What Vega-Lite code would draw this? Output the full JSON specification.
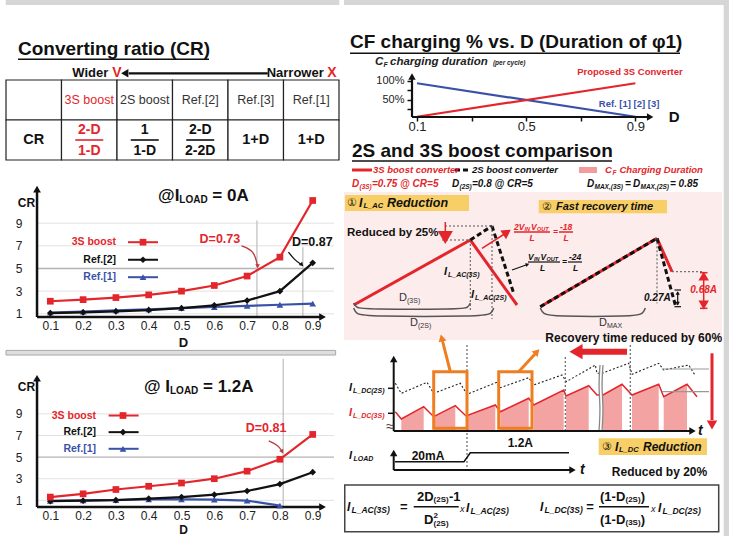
{
"$schema":"https://vega.github.io/schema/vega-lite/v6.json",
"background":"white",
"padding":{"left":5,"top":0,"right":0,"bottom":0},
"config":{"view":{"stroke":null},"font":"Liberation Sans","text":{"font":"Liberation Sans"},"axis":{"grid":false,"domain":false,"ticks":false,"tickSize":0,"labelFont":"Liberation Sans","titleFont":"Liberation Sans","labelColor":"#222222"},"legend":{"labelFont":"Liberation Sans"}},
"spacing":4,
"resolve":{"scale":{"color":"independent","shape":"independent"},"legend":{"color":"independent","shape":"independent"}},
"hconcat":[
{"spacing":0,
 "resolve":{"scale":{"color":"independent","shape":"independent"},"legend":{"color":"independent","shape":"independent"}},
 "vconcat":[
 {"width":333,"height":160,
  "data":{"values":[
   {"col":"lab","row":"head","txt":""},{"col":"3S","row":"head","txt":"3S boost"},{"col":"2S","row":"head","txt":"2S boost"},{"col":"R2","row":"head","txt":"Ref.[2]"},{"col":"R3","row":"head","txt":"Ref.[3]"},{"col":"R1","row":"head","txt":"Ref.[1]"},
   {"col":"lab","row":"cr","txt":"CR"},{"col":"3S","row":"cr","num":"2-D","den":"1-D"},{"col":"2S","row":"cr","num":"1","den":"1-D"},{"col":"R2","row":"cr","num":"2-D","den":"2-2D"},{"col":"R3","row":"cr","txt":"1+D"},{"col":"R1","row":"cr","txt":"1+D"}]},
  "encoding":{
   "x":{"field":"col","type":"nominal","scale":{"domain":["lab","3S","2S","R2","R3","R1"],"paddingInner":0,"paddingOuter":0},"axis":null},
   "y":{"field":"row","type":"nominal","scale":{"domain":["t","a","head","cr"],"paddingInner":0,"paddingOuter":0},"axis":null}},
  "layer":[
   {"data":{"values":[{"col":"lab"},{"col":"3S"},{"col":"2S"},{"col":"R2"},{"col":"R3"},{"col":"R1"}]},"mark":{"type":"tick","orient":"horizontal","size":56,"thickness":5,"opacity":1,"color":"#d6d6d6","yOffset":-17.5},"encoding":{"y":{"datum":"t"}}},
   {"mark":{"type":"rect","fill":"white","stroke":"#222222","strokeWidth":1.2},"encoding":{}},
   {"transform":[{"filter":"datum.row==='head'"}],"mark":{"type":"text","fontSize":12.5,"baseline":"middle"},"encoding":{"text":{"field":"txt"},"color":{"condition":{"test":"datum.col==='3S'","value":"#e3262b"},"value":"#333333"}}},
   {"transform":[{"filter":"datum.row==='cr' && datum.txt"}],"mark":{"type":"text","fontSize":14.5,"fontWeight":"bold","baseline":"middle","color":"#111111"},"encoding":{"text":{"field":"txt"}}},
   {"transform":[{"filter":"datum.num"}],"mark":{"type":"text","fontSize":14,"fontWeight":"bold","baseline":"middle","dy":-10},"encoding":{"text":{"field":"num"},"color":{"condition":{"test":"datum.col==='3S'","value":"#e3262b"},"value":"#111111"}}},
   {"transform":[{"filter":"datum.num"}],"mark":{"type":"text","fontSize":14,"fontWeight":"bold","baseline":"middle","dy":11},"encoding":{"text":{"field":"den"},"color":{"condition":{"test":"datum.col==='3S'","value":"#e3262b"},"value":"#111111"}}},
   {"transform":[{"filter":"datum.num"}],"mark":{"type":"tick","orient":"horizontal","size":28,"thickness":1.6,"opacity":1},"encoding":{"color":{"condition":{"test":"datum.col==='3S'","value":"#e3262b"},"value":"#111111"}}},
   {"data":{"values":[{}]},"mark":{"type":"text","text":"Converting ratio (CR)","fontSize":19,"fontWeight":"bold","align":"left","baseline":"alphabetic","dx":-15.75,"dy":-5,"color":"#111111"},"encoding":{"x":{"datum":"lab"},"y":{"datum":"a"}}},
   {"data":{"values":[{}]},"mark":{"type":"rule","strokeWidth":1.6,"color":"#111111","xOffset":-15.75,"x2Offset":8.75,"yOffset":-0.7},"encoding":{"x":{"datum":"lab"},"x2":{"datum":"R2"},"y":{"datum":"a"}}},
   {"data":{"values":[{}]},"mark":{"type":"text","text":"Wider","fontSize":13,"fontWeight":"bold","align":"right","baseline":"middle","dx":19,"dy":13.3,"color":"#111111"},"encoding":{"x":{"datum":"3S"},"y":{"datum":"a"}}},
   {"data":{"values":[{}]},"mark":{"type":"text","text":"V","fontSize":14,"fontWeight":"bold","align":"left","baseline":"middle","dx":23,"dy":13.3,"color":"#e3262b"},"encoding":{"x":{"datum":"3S"},"y":{"datum":"a"}}},
   {"data":{"values":[{}]},"mark":{"type":"text","text":"Narrower","fontSize":13,"fontWeight":"bold","align":"right","baseline":"middle","dx":12.5,"dy":13.3,"color":"#111111"},"encoding":{"x":{"datum":"R1"},"y":{"datum":"a"}}},
   {"data":{"values":[{}]},"mark":{"type":"text","text":"X","fontSize":14,"fontWeight":"bold","align":"left","baseline":"middle","dx":16,"dy":13.3,"color":"#e3262b"},"encoding":{"x":{"datum":"R1"},"y":{"datum":"a"}}},
   {"data":{"values":[{}]},"mark":{"type":"rule","strokeWidth":2.2,"color":"#111111","xOffset":-16,"x2Offset":12,"yOffset":13.3},"encoding":{"x":{"datum":"2S"},"x2":{"datum":"R3"},"y":{"datum":"a"}}},
   {"data":{"values":[{}]},"mark":{"type":"point","shape":"triangle-left","filled":true,"size":70,"opacity":1,"color":"#111111","xOffset":-20,"yOffset":13.3},"encoding":{"x":{"datum":"2S"},"y":{"datum":"a"}}}
  ]},
 {"width":333,"height":156,
  "data":{"values":[
   {"D":0.1,"CR":1.1,"s":"Ref.[1]"},{"D":0.2,"CR":1.2,"s":"Ref.[1]"},{"D":0.3,"CR":1.3,"s":"Ref.[1]"},{"D":0.4,"CR":1.4,"s":"Ref.[1]"},{"D":0.5,"CR":1.5,"s":"Ref.[1]"},{"D":0.6,"CR":1.6,"s":"Ref.[1]"},{"D":0.7,"CR":1.7,"s":"Ref.[1]"},{"D":0.8,"CR":1.8,"s":"Ref.[1]"},{"D":0.9,"CR":1.9,"s":"Ref.[1]"},
   {"D":0.1,"CR":1.06,"s":"Ref.[2]"},{"D":0.2,"CR":1.13,"s":"Ref.[2]"},{"D":0.3,"CR":1.21,"s":"Ref.[2]"},{"D":0.4,"CR":1.33,"s":"Ref.[2]"},{"D":0.5,"CR":1.5,"s":"Ref.[2]"},{"D":0.6,"CR":1.75,"s":"Ref.[2]"},{"D":0.7,"CR":2.17,"s":"Ref.[2]"},{"D":0.8,"CR":3.0,"s":"Ref.[2]"},{"D":0.9,"CR":5.5,"s":"Ref.[2]"},
   {"D":0.1,"CR":2.11,"s":"3S boost"},{"D":0.2,"CR":2.25,"s":"3S boost"},{"D":0.3,"CR":2.43,"s":"3S boost"},{"D":0.4,"CR":2.67,"s":"3S boost"},{"D":0.5,"CR":3.0,"s":"3S boost"},{"D":0.6,"CR":3.5,"s":"3S boost"},{"D":0.7,"CR":4.33,"s":"3S boost"},{"D":0.8,"CR":6.0,"s":"3S boost"},{"D":0.9,"CR":11.0,"s":"3S boost"}]},
  "encoding":{
   "x":{"field":"D","type":"quantitative","scale":{"domain":[-0.0351,0.9802],"nice":false,"zero":false},"axis":{"values":[0.1,0.2,0.3,0.4,0.5,0.6,0.7,0.8,0.9],"format":".1f","labelFontSize":12,"labelPadding":3,"labelOverlap":false,"title":"D","titleFontSize":13,"titleFontWeight":"bold","titleColor":"#111111","titleX":177,"titleY":19,"titleBaseline":"top"}},
   "y":{"field":"CR","type":"quantitative","scale":{"domain":[0.7176,14.486],"nice":false,"zero":false},"axis":{"values":[1,3,5,7,9],"offset":-31,"labelPadding":15,"labelFontSize":12,"title":"CR","titleAngle":0,"titleX":-11,"titleY":41,"titleAlign":"center","titleBaseline":"middle","titleFontSize":12,"titleFontWeight":"bold","titleColor":"#111111"}}},
  "layer":[
   {"data":{"values":[{"D":0.0595,"D2":0.965,"CR":1},{"D":0.0595,"D2":0.965,"CR":3},{"D":0.0595,"D2":0.965,"CR":7},{"D":0.0595,"D2":0.965,"CR":9}]},"mark":{"type":"rule","color":"#e2e2e2","strokeWidth":1},"encoding":{"x2":{"field":"D2"}}},
   {"data":{"values":[{"D":0.0595,"D2":0.965,"CR":5}]},"mark":{"type":"rule","color":"#b3b3b3","strokeWidth":1.3},"encoding":{"x2":{"field":"D2"}}},
   {"data":{"values":[{"D":0.73,"CR":0.7176,"CR2":9.23},{"D":0.87,"CR":0.7176,"CR2":6.88}]},"mark":{"type":"rule","color":"#bdbdbd","strokeWidth":1.2},"encoding":{"y2":{"field":"CR2"}}},
   {"data":{"values":[{"D":0.0595,"D2":0.93,"CR":0.7176}]},"mark":{"type":"rule","color":"#111111","strokeWidth":2.5},"encoding":{"x2":{"field":"D2"}}},
   {"data":{"values":[{"D":0.0595,"CR":0.7176,"CR2":12.0}]},"mark":{"type":"rule","color":"#111111","strokeWidth":2.5},"encoding":{"y2":{"field":"CR2"}}},
   {"data":{"values":[{"D":0.93,"CR":0.7176,"a":90},{"D":0.0595,"CR":12.0,"a":0}]},"mark":{"type":"point","shape":"triangle-up","filled":true,"size":60,"opacity":1,"color":"#111111"},"encoding":{"angle":{"field":"a","type":"quantitative","scale":null}}},
   {"mark":{"type":"line","strokeWidth":2.2},"encoding":{"color":{"field":"s","type":"nominal","scale":{"domain":["3S boost","Ref.[2]","Ref.[1]"],"range":["#e3262b","#111111","#3a51a8"]},"legend":null}}},
   {"mark":{"type":"point","filled":true,"size":45,"opacity":1},"encoding":{"color":{"field":"s","type":"nominal","legend":null},"shape":{"field":"s","type":"nominal","scale":{"domain":["3S boost","Ref.[2]","Ref.[1]"],"range":["square","diamond","triangle-up"]},"legend":null}}},
   {"data":{"values":[{"D":0.3369,"D2":0.4284,"CR":7.32,"s":"3S boost"},{"D":0.3369,"D2":0.4284,"CR":5.77,"s":"Ref.[2]"},{"D":0.3369,"D2":0.4284,"CR":4.23,"s":"Ref.[1]"}]},"mark":{"type":"rule","strokeWidth":2},"encoding":{"x2":{"field":"D2"},"color":{"field":"s","type":"nominal","legend":null}}},
   {"data":{"values":[{"D":0.3826,"CR":7.32,"s":"3S boost"},{"D":0.3826,"CR":5.77,"s":"Ref.[2]"},{"D":0.3826,"CR":4.23,"s":"Ref.[1]"}]},"mark":{"type":"point","filled":true,"size":45,"opacity":1},"encoding":{"color":{"field":"s","type":"nominal","legend":null},"shape":{"field":"s","type":"nominal","legend":null}}},
   {"data":{"values":[{"D":0.3003,"CR":7.32,"s":"3S boost"},{"D":0.3003,"CR":5.77,"s":"Ref.[2]"},{"D":0.3003,"CR":4.23,"s":"Ref.[1]"}]},"mark":{"type":"text","align":"right","baseline":"middle","fontSize":10.5,"fontWeight":"bold"},"encoding":{"text":{"field":"s"},"color":{"field":"s","type":"nominal","legend":null}}},
   {"data":{"values":[{"D":0.4287,"CR":11.44,"t":"@I"},{"D":0.594,"CR":11.44,"t":"= 0A"}]},"mark":{"type":"text","align":"left","baseline":"middle","fontSize":17,"fontWeight":"bold","color":"#111111"},"encoding":{"text":{"field":"t"}}},
   {"data":{"values":[{"D":0.4933,"CR":11.05,"t":"LOAD"}]},"mark":{"type":"text","align":"left","baseline":"middle","fontSize":10,"fontWeight":"bold","color":"#111111"},"encoding":{"text":{"field":"t"}}},
   {"data":{"values":[{"D":0.617,"CR":7.62,"t":"D=0.73"}]},"mark":{"type":"text","align":"center","baseline":"middle","fontSize":12.5,"fontWeight":"bold","color":"#e3262b"},"encoding":{"text":{"field":"t"}}},
   {"data":{"values":[{"D":0.899,"CR":7.32,"t":"D=0.87"}]},"mark":{"type":"text","align":"center","baseline":"middle","fontSize":12.5,"fontWeight":"bold","color":"#111111"},"encoding":{"text":{"field":"t"}}},
   {"data":{"values":[{"D":0.683,"CR":7.0},{"D":0.722,"CR":6.55},{"D":0.731,"CR":5.3}]},"mark":{"type":"line","interpolate":"basis","color":"#b83a3a","strokeWidth":1.3},"encoding":{}},
   {"data":{"values":[{"D":0.826,"CR":6.45},{"D":0.845,"CR":5.75},{"D":0.864,"CR":5.38}]},"mark":{"type":"line","interpolate":"basis","color":"#111111","strokeWidth":1.3},"encoding":{}},
   {"data":{"values":[{"D":0.732,"CR":5.2,"a":180}]},"mark":{"type":"point","shape":"triangle-up","filled":true,"size":22,"opacity":1,"color":"#b83a3a"},"encoding":{"angle":{"field":"a","type":"quantitative","scale":null}}},
   {"data":{"values":[{"D":0.867,"CR":5.32,"a":135}]},"mark":{"type":"point","shape":"triangle-up","filled":true,"size":22,"opacity":1,"color":"#111111"},"encoding":{"angle":{"field":"a","type":"quantitative","scale":null}}}
  ]},
 {"width":333,"height":157,
  "data":{"values":[
   {"D":0.1,"CR":0.95,"s":"Ref.[1]"},{"D":0.2,"CR":1.0,"s":"Ref.[1]"},{"D":0.3,"CR":1.03,"s":"Ref.[1]"},{"D":0.4,"CR":1.08,"s":"Ref.[1]"},{"D":0.5,"CR":1.08,"s":"Ref.[1]"},{"D":0.6,"CR":1.07,"s":"Ref.[1]"},{"D":0.7,"CR":0.97,"s":"Ref.[1]"},{"D":0.8,"CR":0.5,"s":"Ref.[1]"},
   {"D":0.1,"CR":0.92,"s":"Ref.[2]"},{"D":0.2,"CR":0.97,"s":"Ref.[2]"},{"D":0.3,"CR":1.02,"s":"Ref.[2]"},{"D":0.4,"CR":1.15,"s":"Ref.[2]"},{"D":0.5,"CR":1.3,"s":"Ref.[2]"},{"D":0.6,"CR":1.52,"s":"Ref.[2]"},{"D":0.7,"CR":1.86,"s":"Ref.[2]"},{"D":0.8,"CR":2.5,"s":"Ref.[2]"},{"D":0.9,"CR":3.6,"s":"Ref.[2]"},
   {"D":0.1,"CR":1.3,"s":"3S boost"},{"D":0.2,"CR":1.6,"s":"3S boost"},{"D":0.3,"CR":2.0,"s":"3S boost"},{"D":0.4,"CR":2.3,"s":"3S boost"},{"D":0.5,"CR":2.6,"s":"3S boost"},{"D":0.6,"CR":3.0,"s":"3S boost"},{"D":0.7,"CR":3.7,"s":"3S boost"},{"D":0.8,"CR":4.8,"s":"3S boost"},{"D":0.9,"CR":7.1,"s":"3S boost"}]},
  "encoding":{
   "x":{"field":"D","type":"quantitative","scale":{"domain":[-0.0351,0.9802],"nice":false,"zero":false},"axis":{"values":[0.1,0.2,0.3,0.4,0.5,0.6,0.7,0.8,0.9],"format":".1f","labelFontSize":12,"labelPadding":3,"labelOverlap":false,"title":"D","titleFontSize":12,"titleFontWeight":"bold","titleColor":"#111111","titleX":177,"titleY":17,"titleBaseline":"top"}},
   "y":{"field":"CR","type":"quantitative","scale":{"domain":[0.38,14.917],"nice":false,"zero":false},"axis":{"values":[1,3,5,7,9],"offset":-31,"labelPadding":15,"labelFontSize":12,"title":"CR","titleAngle":0,"titleX":-11,"titleY":36,"titleAlign":"center","titleBaseline":"middle","titleFontSize":12,"titleFontWeight":"bold","titleColor":"#111111"}}},
  "layer":[
   {"data":{"values":[{"D":-0.0351,"D2":0.97,"CR":14.45,"CR2":14.88}]},"mark":{"type":"rect","fill":"#dedede","stroke":"#a8a8a8","strokeWidth":1},"encoding":{"x2":{"field":"D2"},"y2":{"field":"CR2"}}},
   {"data":{"values":[{"D":0.0595,"D2":0.965,"CR":1},{"D":0.0595,"D2":0.965,"CR":3},{"D":0.0595,"D2":0.965,"CR":7},{"D":0.0595,"D2":0.965,"CR":9}]},"mark":{"type":"rule","color":"#e2e2e2","strokeWidth":1},"encoding":{"x2":{"field":"D2"}}},
   {"data":{"values":[{"D":0.0595,"D2":0.965,"CR":5}]},"mark":{"type":"rule","color":"#b3b3b3","strokeWidth":1.3},"encoding":{"x2":{"field":"D2"}}},
   {"data":{"values":[{"D":0.81,"CR":0.38,"CR2":14.1}]},"mark":{"type":"rule","color":"#bdbdbd","strokeWidth":1.2},"encoding":{"y2":{"field":"CR2"}}},
   {"data":{"values":[{"D":0.0595,"D2":0.93,"CR":0.38}]},"mark":{"type":"rule","color":"#111111","strokeWidth":2.5},"encoding":{"x2":{"field":"D2"}}},
   {"data":{"values":[{"D":0.0595,"CR":0.38,"CR2":12.3}]},"mark":{"type":"rule","color":"#111111","strokeWidth":2.5},"encoding":{"y2":{"field":"CR2"}}},
   {"data":{"values":[{"D":0.93,"CR":0.38,"a":90},{"D":0.0595,"CR":12.3,"a":0}]},"mark":{"type":"point","shape":"triangle-up","filled":true,"size":60,"opacity":1,"color":"#111111"},"encoding":{"angle":{"field":"a","type":"quantitative","scale":null}}},
   {"mark":{"type":"line","strokeWidth":2.2},"encoding":{"color":{"field":"s","type":"nominal","scale":{"domain":["3S boost","Ref.[2]","Ref.[1]"],"range":["#e3262b","#111111","#3a51a8"]},"legend":null}}},
   {"mark":{"type":"point","filled":true,"size":45,"opacity":1},"encoding":{"color":{"field":"s","type":"nominal","legend":null},"shape":{"field":"s","type":"nominal","scale":{"domain":["3S boost","Ref.[2]","Ref.[1]"],"range":["square","diamond","triangle-up"]},"legend":null}}},
   {"data":{"values":[{"D":0.2777,"D2":0.3692,"CR":8.85,"s":"3S boost"},{"D":0.2777,"D2":0.3692,"CR":7.31,"s":"Ref.[2]"},{"D":0.2777,"D2":0.3692,"CR":5.77,"s":"Ref.[1]"}]},"mark":{"type":"rule","strokeWidth":2},"encoding":{"x2":{"field":"D2"},"color":{"field":"s","type":"nominal","legend":null}}},
   {"data":{"values":[{"D":0.3216,"CR":8.85,"s":"3S boost"},{"D":0.3216,"CR":7.31,"s":"Ref.[2]"},{"D":0.3216,"CR":5.77,"s":"Ref.[1]"}]},"mark":{"type":"point","filled":true,"size":45,"opacity":1},"encoding":{"color":{"field":"s","type":"nominal","legend":null},"shape":{"field":"s","type":"nominal","legend":null}}},
   {"data":{"values":[{"D":0.2396,"CR":8.85,"s":"3S boost"},{"D":0.2396,"CR":7.31,"s":"Ref.[2]"},{"D":0.2396,"CR":5.77,"s":"Ref.[1]"}]},"mark":{"type":"text","align":"right","baseline":"middle","fontSize":10.5,"fontWeight":"bold"},"encoding":{"text":{"field":"s"},"color":{"field":"s","type":"nominal","legend":null}}},
   {"data":{"values":[{"D":0.3857,"CR":11.52,"t":"@ I"},{"D":0.5656,"CR":11.52,"t":"= 1.2A"}]},"mark":{"type":"text","align":"left","baseline":"middle","fontSize":17,"fontWeight":"bold","color":"#111111"},"encoding":{"text":{"field":"t"}}},
   {"data":{"values":[{"D":0.4649,"CR":11.12,"t":"LOAD"}]},"mark":{"type":"text","align":"left","baseline":"middle","fontSize":10,"fontWeight":"bold","color":"#111111"},"encoding":{"text":{"field":"t"}}},
   {"data":{"values":[{"D":0.758,"CR":7.69,"t":"D=0.81"}]},"mark":{"type":"text","align":"center","baseline":"middle","fontSize":12.5,"fontWeight":"bold","color":"#e3262b"},"encoding":{"text":{"field":"t"}}},
   {"data":{"values":[{"D":0.766,"CR":6.5},{"D":0.795,"CR":6.1},{"D":0.805,"CR":5.6}]},"mark":{"type":"line","interpolate":"basis","color":"#b83a3a","strokeWidth":1.3},"encoding":{}},
   {"data":{"values":[{"D":0.807,"CR":5.5,"a":150}]},"mark":{"type":"point","shape":"triangle-up","filled":true,"size":22,"opacity":1,"color":"#b83a3a"},"encoding":{"angle":{"field":"a","type":"quantitative","scale":null}}}
  ]}
 ]},
{"spacing":0,
 "vconcat":[
 {"width":387,"height":117,
  "encoding":{
   "x":{"field":"D","type":"quantitative","scale":{"domain":[-0.1674,1.2502],"nice":false,"zero":false},"axis":{"values":[0.1,0.3,0.5,0.7,0.9],"labelExpr":"(abs(datum.value-0.3)<0.01||abs(datum.value-0.7)<0.01)?'':datum.label","ticks":true,"tickSize":4,"tickWidth":1.5,"tickColor":"#111111","labelPadding":-1,"labelFontSize":13,"title":null}},
   "y":{"field":"pct","type":"quantitative","scale":{"domain":[5.26,313.16],"nice":false,"zero":false},"axis":{"values":[25,50,75,100],"labelExpr":"datum.value==100?'100%':(datum.value==50?'50%':'')","offset":-68,"ticks":true,"tickSize":5,"tickWidth":1.5,"tickColor":"#111111","labelPadding":3,"labelFontSize":11,"title":null}}},
  "layer":[
   {"data":{"values":[{"D":1.2234,"D2":1.2502,"pct":-44.7,"pct2":313.16},{"D":-0.1674,"D2":1.2502,"pct":300,"pct2":313.16}]},"mark":{"type":"rect","color":"#d6d6d6"},"encoding":{"x2":{"field":"D2"},"y2":{"field":"pct2"}}},
   {"data":{"values":[{"D":0.1,"pct":94},{"D":0.9,"pct":6}]},"mark":{"type":"line","color":"#3a51a8","strokeWidth":2.2},"encoding":{}},
   {"data":{"values":[{"D":0.1,"pct":6},{"D":0.9,"pct":94}]},"mark":{"type":"line","color":"#e3262b","strokeWidth":2.2},"encoding":{}},
   {"data":{"values":[{"D":0.0817,"D2":0.954,"pct":5.26}]},"mark":{"type":"rule","color":"#111111","strokeWidth":2.2},"encoding":{"x2":{"field":"D2"}}},
   {"data":{"values":[{"D":0.0817,"pct":5.26,"pct2":112}]},"mark":{"type":"rule","color":"#111111","strokeWidth":2.2},"encoding":{"y2":{"field":"pct2"}}},
   {"data":{"values":[{"D":0.954,"pct":5.26,"a":90},{"D":0.0817,"pct":112,"a":0}]},"mark":{"type":"point","shape":"triangle-up","filled":true,"size":55,"opacity":1,"color":"#111111"},"encoding":{"angle":{"field":"a","type":"quantitative","scale":null}}},
   {"data":{"values":[{"D":-0.1454,"pct":186.05,"t":"CF charging % vs. D (Duration of φ1)"}]},"mark":{"type":"text","align":"left","baseline":"alphabetic","fontSize":19,"fontWeight":"bold","color":"#111111"},"encoding":{"text":{"field":"t"}}},
   {"data":{"values":[{"D":-0.1454,"D2":1.0634,"pct":172.9}]},"mark":{"type":"rule","color":"#111111","strokeWidth":1.6},"encoding":{"x2":{"field":"D2"}}},
   {"data":{"values":[{"D":-0.0539,"pct":150,"t":"C"},{"D":0.0012,"pct":150,"t":"charging duration"}]},"mark":{"type":"text","align":"left","baseline":"middle","fontSize":11.5,"fontWeight":"bold","fontStyle":"italic","color":"#222222"},"encoding":{"text":{"field":"t"}}},
   {"data":{"values":[{"D":-0.0227,"pct":142,"t":"F"}]},"mark":{"type":"text","align":"left","baseline":"middle","fontSize":7,"fontWeight":"bold","fontStyle":"italic","color":"#222222"},"encoding":{"text":{"field":"t"}}},
   {"data":{"values":[{"D":0.378,"pct":147,"t":"(per cycle)"}]},"mark":{"type":"text","align":"left","baseline":"middle","fontSize":6.5,"fontWeight":"bold","fontStyle":"italic","color":"#222222"},"encoding":{"text":{"field":"t"}}},
   {"data":{"values":[{"D":1.022,"pct":6,"t":"D"}]},"mark":{"type":"text","align":"left","baseline":"middle","fontSize":15,"fontWeight":"bold","color":"#111111"},"encoding":{"text":{"field":"t"}}},
   {"data":{"values":[{"D":0.88,"pct":124.5,"t":"Proposed 3S Converter"}]},"mark":{"type":"text","align":"center","baseline":"middle","fontSize":9.5,"fontWeight":"bold","color":"#e3262b"},"encoding":{"text":{"field":"t"}}},
   {"data":{"values":[{"D":0.877,"pct":39.5,"t":"Ref. [1] [2] [3]"}]},"mark":{"type":"text","align":"center","baseline":"middle","fontSize":9.5,"fontWeight":"bold","color":"#3a51a8"},"encoding":{"text":{"field":"t"}}}
  ]},
 {"width":387,"height":400,
  "encoding":{
   "x":{"field":"u","type":"quantitative","scale":{"domain":[0,387],"nice":false,"zero":false},"axis":null},
   "y":{"field":"v","type":"quantitative","scale":{"domain":[0,400],"nice":false,"zero":false},"axis":null}},
  "layer":[
   {"data":{"values":[{"u":379.7,"u2":387,"v":0,"v2":400}]},"mark":{"type":"rect","color":"#d6d6d6"},"encoding":{"x2":{"field":"u2"},"y2":{"field":"v2"}}},
   {"data":{"values":[{"u":0,"u2":378,"v":196,"v2":344}]},"mark":{"type":"rect","color":"#fcecec"},"encoding":{"x2":{"field":"u2"},"y2":{"field":"v2"}}},
   {"data":{"values":[{"u":1,"u2":125,"v":325,"v2":341},{"u":194.7,"u2":323,"v":322.7,"v2":336},{"u":254.7,"u2":363,"v":81,"v2":97.7}]},"mark":{"type":"rect","color":"#f7cf66"},"encoding":{"x2":{"field":"u2"},"y2":{"field":"v2"}}},
   {"data":{"values":[{"u":235,"u2":253,"v":363,"v2":369}]},"mark":{"type":"rect","color":"#f29c9c"},"encoding":{"x2":{"field":"u2"},"y2":{"field":"v2"}}},
   {"data":{"values":[{"u":0.75,"u2":374.7,"v":4.3,"v2":51}]},"mark":{"type":"rect","fill":"white","stroke":"#444444","strokeWidth":1.5},"encoding":{"x2":{"field":"u2"},"y2":{"field":"v2"}}},
   {"data":{"values":[
     {"g":1,"u":57.3,"v":117},{"g":1,"u":79.7,"v":129.3},
     {"g":2,"u":89.7,"v":119.3},{"g":2,"u":111.3,"v":130.3},
     {"g":3,"u":122,"v":120},{"g":3,"u":151.3,"v":131},
     {"g":4,"u":156.3,"v":124.3},{"g":4,"u":184.7,"v":137.7},
     {"g":5,"u":189.7,"v":131},{"g":5,"u":219.7,"v":146},
     {"g":6,"u":222,"v":140},{"g":6,"u":244.7,"v":150.3},
     {"g":7,"u":259,"v":141},{"g":7,"u":278,"v":151.7},
     {"g":8,"u":288,"v":141},{"g":8,"u":314.7,"v":151.7},
     {"g":9,"u":319.7,"v":139.3},{"g":9,"u":343,"v":151.7}]},
    "mark":{"type":"area","color":"#f4a3a3","opacity":1},"encoding":{"detail":{"field":"g"},"y2":{"datum":105}}},
   {"data":{"values":[{"u":51.3,"v":124.3},{"u":57.3,"v":117},{"u":79.7,"v":129.3},{"u":89.7,"v":119.3},{"u":111.3,"v":130.3},{"u":122,"v":120},{"u":151.3,"v":131},{"u":156.3,"v":124.3},{"u":184.7,"v":137.7},{"u":189.7,"v":131},{"u":219.7,"v":146},{"u":222,"v":140},{"u":244.7,"v":150.3},{"u":253,"v":141},{"u":259,"v":141},{"u":278,"v":151.7},{"u":288,"v":141},{"u":314.7,"v":151.7},{"u":319.7,"v":139.3},{"u":343,"v":151.7},{"u":353,"v":139.3}]},"mark":{"type":"line","color":"#e3262b","strokeWidth":1.5},"encoding":{}},
   {"data":{"values":[{"u":51.3,"v":152.7},{"u":57.3,"v":142.7},{"u":83,"v":153.7},{"u":89.7,"v":142.7},{"u":116.3,"v":152.7},{"u":123,"v":141.7},{"u":153,"v":153.7},{"u":156.3,"v":148.3},{"u":184.7,"v":158.3},{"u":189.7,"v":151},{"u":218,"v":161},{"u":222.3,"v":154.3},{"u":251.3,"v":171},{"u":253,"v":162.7},{"u":258,"v":162.7},{"u":284.7,"v":172.7},{"u":288,"v":161.7},{"u":314.7,"v":172.7},{"u":319.7,"v":166},{"u":344.7,"v":171},{"u":351.3,"v":160.3}]},"mark":{"type":"line","color":"#222222","strokeWidth":1.1,"strokeDash":[2,2]},"encoding":{}},
   {"data":{"values":[{"u":123,"v":69,"u2":123,"v2":191},{"u":221.3,"v":105,"u2":221.3,"v2":179.3},{"u":286.3,"v":105,"u2":286.3,"v2":191}]},"mark":{"type":"rule","color":"#666666","strokeWidth":1.2,"strokeDash":[2,2]},"encoding":{"x2":{"field":"u2"},"y2":{"field":"v2"}}},
   {"data":{"values":[{"u":318,"v":167,"u2":365,"v2":167},{"u":318,"v":144.3,"u2":365,"v2":144.3}]},"mark":{"type":"rule","color":"#999999","strokeWidth":1.2},"encoding":{"x2":{"field":"u2"},"y2":{"field":"v2"}}},
   {"data":{"values":[{"u":256,"u2":258.5,"v":105,"v2":171}]},"mark":{"type":"rect","color":"white"},"encoding":{"x2":{"field":"u2"},"y2":{"field":"v2"}}},
   {"data":{"values":[{"b":1,"k":1,"u":256,"v":171},{"b":1,"k":2,"u":254.5,"v":150},{"b":1,"k":3,"u":256.5,"v":128},{"b":1,"k":4,"u":255,"v":105},{"b":2,"k":1,"u":259,"v":171},{"b":2,"k":2,"u":257.5,"v":150},{"b":2,"k":3,"u":259.5,"v":128},{"b":2,"k":4,"u":258,"v":105}]},"mark":{"type":"line","color":"#888888","strokeWidth":1.3,"interpolate":"basis"},"encoding":{"detail":{"field":"b"},"order":{"field":"k"}}},
   {"data":{"values":[{"u":89.7,"u2":123,"v":107.7,"v2":164.3},{"u":154.7,"u2":188,"v":107.7,"v2":164.3}]},"mark":{"type":"rect","fillOpacity":0,"stroke":"#ef7e22","strokeWidth":3},"encoding":{"x2":{"field":"u2"},"y2":{"field":"v2"}}},
   {"data":{"values":[{"u":106.3,"v":164.3,"u2":98.5,"v2":195},{"u":174.7,"v":164.3,"u2":191,"v2":182}]},"mark":{"type":"rule","color":"#ef7e22","strokeWidth":3},"encoding":{"x2":{"field":"u2"},"y2":{"field":"v2"}}},
   {"data":{"values":[{"u":97.7,"v":198,"a":-14},{"u":193,"v":184.3,"a":43}]},"mark":{"type":"point","shape":"triangle-up","filled":true,"size":65,"opacity":1,"color":"#ef7e22"},"encoding":{"angle":{"field":"a","type":"quantitative","scale":null}}},
   {"data":{"values":[{"u":49.7,"v":105,"u2":49.7,"v2":176},{"u":49.7,"v":105,"u2":347,"v2":105},{"u":49.7,"v":66,"u2":49.7,"v2":82},{"u":49.7,"v":66,"u2":227,"v2":66}]},"mark":{"type":"rule","color":"#111111","strokeWidth":2},"encoding":{"x2":{"field":"u2"},"y2":{"field":"v2"}}},
   {"data":{"values":[{"u":44,"v":147.7,"u2":50,"v2":147.7},{"u":44,"v":122.7,"u2":50,"v2":122.7}]},"mark":{"type":"rule","color":"#111111","strokeWidth":1.5},"encoding":{"x2":{"field":"u2"},"y2":{"field":"v2"}}},
   {"data":{"values":[{"u":49.7,"v":177,"a":0},{"u":348.5,"v":105,"a":90},{"u":49.7,"v":83,"a":0},{"u":228.5,"v":66,"a":90}]},"mark":{"type":"point","shape":"triangle-up","filled":true,"size":55,"opacity":1,"color":"#111111"},"encoding":{"angle":{"field":"a","type":"quantitative","scale":null}}},
   {"data":{"values":[{"u":51,"v":74.3},{"u":120,"v":74.3},{"u":126.3,"v":83.3},{"u":225,"v":83.3}]},"mark":{"type":"line","color":"#111111","strokeWidth":1.5},"encoding":{}},
   {"data":{"values":[{"u":283,"v":184.3,"u2":238,"v2":184.3}]},"mark":{"type":"rule","color":"#e3262b","strokeWidth":6},"encoding":{"x2":{"field":"u2"},"y2":{"field":"v2"}}},
   {"data":{"values":[{"u":368,"v":182.7,"u2":368,"v2":116}]},"mark":{"type":"rule","color":"#e3262b","strokeWidth":3},"encoding":{"x2":{"field":"u2"},"y2":{"field":"v2"}}},
   {"data":{"values":[{"u":232,"v":184.3,"a":-90,"z":1},{"u":368,"v":111,"a":180,"z":0}]},"mark":{"type":"point","shape":"triangle-up","filled":true,"opacity":1,"color":"#e3262b"},"encoding":{"angle":{"field":"a","type":"quantitative","scale":null},"size":{"field":"z","type":"quantitative","scale":{"domain":[0,1],"range":[110,230]},"legend":null}}},
   {"data":{"values":[{"u":9.7,"v":231,"u2":126.3,"v2":296},{"u":126.3,"v":296,"u2":173,"v2":231},{"u":196.3,"v":229.3,"u2":313,"v2":297.7},{"u":313,"v":297.7,"u2":328,"v2":264.3},{"u":8,"v":366,"u2":28,"v2":366}]},"mark":{"type":"rule","color":"#e3262b","strokeWidth":3},"encoding":{"x2":{"field":"u2"},"y2":{"field":"v2"}}},
   {"data":{"values":[{"u":126.3,"v":296,"u2":148,"v2":310},{"u":148,"v":310,"u2":169.7,"v2":242.7},{"u":196.3,"v":229.3,"u2":313,"v2":297.7},{"u":313,"v":297.7,"u2":331.3,"v2":231},{"u":111,"v":366,"u2":126,"v2":366}]},"mark":{"type":"rule","color":"#111111","strokeWidth":3,"strokeDash":[5,3]},"encoding":{"x2":{"field":"u2"},"y2":{"field":"v2"}}},
   {"data":{"values":[{"u":101,"v":310,"u2":148,"v2":310},{"u":98,"v":296,"u2":126.3,"v2":296},{"u":126.3,"v":296,"u2":126.3,"v2":226},{"u":148,"v":310,"u2":148,"v2":217},{"u":313,"v":297.7,"u2":313,"v2":232.7},{"u":328,"v":264.3,"u2":359.7,"v2":264.3}]},"mark":{"type":"rule","color":"#555555","strokeWidth":1,"strokeDash":[2,2]},"encoding":{"x2":{"field":"u2"},"y2":{"field":"v2"}}},
   {"data":{"values":[{"u":101.3,"v":314,"u2":101.3,"v2":300},{"u":138,"v":287.7,"u2":162,"v2":303},{"u":170,"v":304,"u2":206,"v2":304},{"u":215,"v":304,"u2":229,"v2":304},{"u":359.7,"v":261,"u2":359.7,"v2":230},{"u":356,"v":263.3,"u2":363.5,"v2":263.3},{"u":356,"v":227.7,"u2":363.5,"v2":227.7}]},"mark":{"type":"rule","color":"#e3262b","strokeWidth":1.5},"encoding":{"x2":{"field":"u2"},"y2":{"field":"v2"}}},
   {"data":{"values":[{"u":101.3,"v":298.5,"a":180,"z":1},{"u":163,"v":303.7,"a":57,"z":0},{"u":359.7,"v":260,"a":0,"z":0},{"u":359.7,"v":231,"a":180,"z":0}]},"mark":{"type":"point","shape":"triangle-up","filled":true,"opacity":1,"color":"#e3262b"},"encoding":{"angle":{"field":"a","type":"quantitative","scale":null},"size":{"field":"z","type":"quantitative","scale":{"domain":[0,1],"range":[20,50]},"legend":null}}},
   {"data":{"values":[{"u":168,"v":266,"u2":182,"v2":271},{"u":184,"v":274,"u2":216,"v2":274},{"u":224,"v":274,"u2":238,"v2":274},{"u":333.7,"v":244,"u2":333.7,"v2":231.3},{"u":330.5,"v":246,"u2":337,"v2":246},{"u":330.5,"v":229.3,"u2":337,"v2":229.3}]},"mark":{"type":"rule","color":"#111111","strokeWidth":1.2},"encoding":{"x2":{"field":"u2"},"y2":{"field":"v2"}}},
   {"data":{"values":[{"u":183.5,"v":271.5,"a":70},{"u":333.7,"v":243,"a":0},{"u":333.7,"v":232.3,"a":180}]},"mark":{"type":"point","shape":"triangle-up","filled":true,"size":18,"opacity":1,"color":"#111111"},"encoding":{"angle":{"field":"a","type":"quantitative","scale":null}}},
   {"data":{"values":[
     {"b":1,"k":1,"u":9.7,"v":233},{"b":1,"k":2,"u":12,"v":228.3},{"b":1,"k":3,"u":20,"v":226.7},{"b":1,"k":4,"u":118,"v":226.7},{"b":1,"k":5,"u":124,"v":228.3},{"b":1,"k":6,"u":126.3,"v":233},
     {"b":2,"k":1,"u":9.7,"v":228},{"b":2,"k":2,"u":12,"v":222},{"b":2,"k":3,"u":22,"v":219.5},{"b":2,"k":4,"u":138,"v":219.5},{"b":2,"k":5,"u":147.5,"v":222},{"b":2,"k":6,"u":149.7,"v":228},
     {"b":3,"k":1,"u":196.3,"v":228},{"b":3,"k":2,"u":199,"v":222},{"b":3,"k":3,"u":208,"v":219.5},{"b":3,"k":4,"u":290,"v":219.5},{"b":3,"k":5,"u":299,"v":222},{"b":3,"k":6,"u":301.3,"v":228}]},
    "mark":{"type":"line","color":"#555555","strokeWidth":1.5,"interpolate":"basis"},"encoding":{"detail":{"field":"b"},"order":{"field":"k"}}},
   {"data":{"values":[{"u":8,"v":375,"u2":268,"v2":375},{"u":69.7,"v":29.3,"u2":114.7,"v2":29.3},{"u":255,"v":29.3,"u2":305,"v2":29.3}]},"mark":{"type":"rule","color":"#111111","strokeWidth":1.5},"encoding":{"x2":{"field":"u2"},"y2":{"field":"v2"}}},
   {"data":{"values":[{"t":"2S and 3S boost comparison","u":8,"v":379.3}]},"mark":{"type":"text","align":"left","baseline":"alphabetic","fontSize":19,"fontWeight":"bold","color":"#111111"},"encoding":{"text":{"field":"t"}}},
   {"data":{"values":[{"t":"3S boost converter","u":29,"v":366},{"t":"C","u":261,"v":366},{"t":"Charging Duration","u":275.5,"v":366}]},"mark":{"type":"text","align":"left","baseline":"middle","fontSize":9.5,"fontWeight":"bold","fontStyle":"italic","color":"#e3262b"},"encoding":{"text":{"field":"t"}}},
   {"data":{"values":[{"t":"2S boost converter","u":128,"v":366}]},"mark":{"type":"text","align":"left","baseline":"middle","fontSize":9.5,"fontWeight":"bold","fontStyle":"italic","color":"#111111"},"encoding":{"text":{"field":"t"}}},
   {"data":{"values":[{"t":"D","u":8,"v":352},{"t":"=0.75 @ CR=5","u":28,"v":352},{"t":"0.68A","u":346.3,"v":246}]},"mark":{"type":"text","align":"left","baseline":"middle","fontSize":10,"fontWeight":"bold","fontStyle":"italic","color":"#e3262b"},"encoding":{"text":{"field":"t"}}},
   {"data":{"values":[{"t":"D","u":108,"v":352},{"t":"=0.8 @ CR=5","u":128,"v":352},{"t":"D","u":243,"v":352},{"t":"=","u":281,"v":352},{"t":"D","u":289,"v":352},{"t":"= 0.85","u":326,"v":352},{"t":"0.27A","u":300,"v":237.7}]},"mark":{"type":"text","align":"left","baseline":"middle","fontSize":10,"fontWeight":"bold","fontStyle":"italic","color":"#111111"},"encoding":{"text":{"field":"t"}}},
   {"data":{"values":[{"t":"F","u":268.5,"v":363.5},{"t":"(3S)","u":15.5,"v":349.5}]},"mark":{"type":"text","align":"left","baseline":"middle","fontSize":6.5,"fontWeight":"bold","fontStyle":"italic","color":"#e3262b"},"encoding":{"text":{"field":"t"}}},
   {"data":{"values":[{"t":"(2S)","u":115.5,"v":349.5},{"t":"MAX,(3S)","u":250.5,"v":349.5},{"t":"MAX,(2S)","u":296.5,"v":349.5}]},"mark":{"type":"text","align":"left","baseline":"middle","fontSize":6.5,"fontWeight":"bold","fontStyle":"italic","color":"#111111"},"encoding":{"text":{"field":"t"}}},
   {"data":{"values":[{"t":"①","u":3,"v":333.3},{"t":"②","u":198,"v":329.3},{"t":"③","u":258,"v":89.3}]},"mark":{"type":"text","align":"left","baseline":"middle","fontSize":11,"color":"#111111"},"encoding":{"text":{"field":"t"}}},
   {"data":{"values":[{"t":"I","u":15,"v":333.3},{"t":"Reduction","u":43,"v":333.3}]},"mark":{"type":"text","align":"left","baseline":"middle","fontSize":12.5,"fontWeight":"bold","fontStyle":"italic","color":"#111111"},"encoding":{"text":{"field":"t"}}},
   {"data":{"values":[{"t":"Fast recovery time","u":212,"v":329.3}]},"mark":{"type":"text","align":"left","baseline":"middle","fontSize":11,"fontWeight":"bold","fontStyle":"italic","color":"#111111"},"encoding":{"text":{"field":"t"}}},
   {"data":{"values":[{"t":"I","u":271,"v":89.3},{"t":"Reduction","u":299,"v":89.3},{"t":"I","u":3,"v":29.3},{"t":"I","u":122,"v":28.5},{"t":"I","u":196,"v":29.3},{"t":"I","u":314,"v":28.5}]},"mark":{"type":"text","align":"left","baseline":"middle","fontSize":12,"fontWeight":"bold","fontStyle":"italic","color":"#111111"},"encoding":{"text":{"field":"t"}}},
   {"data":{"values":[{"t":"L_AC","u":19.5,"v":330.3},{"t":"L_DC","u":275,"v":86.3}]},"mark":{"type":"text","align":"left","baseline":"middle","fontSize":7.5,"fontWeight":"bold","fontStyle":"italic","color":"#111111"},"encoding":{"text":{"field":"t"}}},
   {"data":{"values":[{"t":"Reduced by 25%","u":3,"v":302.7}]},"mark":{"type":"text","align":"left","baseline":"middle","fontSize":11.5,"fontWeight":"bold","color":"#111111"},"encoding":{"text":{"field":"t"}}},
   {"data":{"values":[{"t":"I","u":100,"v":264.3},{"t":"I","u":127,"v":241},{"t":"I","u":5,"v":147.7},{"t":"I","u":5,"v":80}]},"mark":{"type":"text","align":"left","baseline":"middle","fontSize":11,"fontWeight":"bold","fontStyle":"italic","color":"#111111"},"encoding":{"text":{"field":"t"}}},
   {"data":{"values":[{"t":"L_AC(3S)","u":104,"v":261.3},{"t":"L_AC(2S)","u":131,"v":238},{"t":"L_DC(2S)","u":9,"v":144.7},{"t":"LOAD","u":9.5,"v":77}]},"mark":{"type":"text","align":"left","baseline":"middle","fontSize":7,"fontWeight":"bold","fontStyle":"italic","color":"#111111"},"encoding":{"text":{"field":"t"}}},
   {"data":{"values":[{"t":"I","u":5,"v":122.7}]},"mark":{"type":"text","align":"left","baseline":"middle","fontSize":11,"fontWeight":"bold","fontStyle":"italic","color":"#e3262b"},"encoding":{"text":{"field":"t"}}},
   {"data":{"values":[{"t":"L_DC(3S)","u":9,"v":119.7}]},"mark":{"type":"text","align":"left","baseline":"middle","fontSize":7,"fontWeight":"bold","fontStyle":"italic","color":"#e3262b"},"encoding":{"text":{"field":"t"}}},
   {"data":{"values":[{"t":"D","u":55,"v":237.7},{"t":"D","u":66,"v":213},{"t":"D","u":255,"v":213}]},"mark":{"type":"text","align":"left","baseline":"middle","fontSize":11,"color":"#333333"},"encoding":{"text":{"field":"t"}}},
   {"data":{"values":[{"t":"(3S)","u":63,"v":235},{"t":"(2S)","u":74,"v":210.3},{"t":"MAX","u":263,"v":210.3}]},"mark":{"type":"text","align":"left","baseline":"middle","fontSize":7,"color":"#333333"},"encoding":{"text":{"field":"t"}}},
   {"data":{"values":[{"t":"2V","u":170,"v":309},{"t":"V","u":187,"v":309},{"t":"L","u":185.5,"v":298.5},{"t":"=","u":209,"v":304},{"t":"-18","u":216,"v":309},{"t":"L","u":219.5,"v":298.5}]},"mark":{"type":"text","align":"left","baseline":"middle","fontSize":8.5,"fontWeight":"bold","fontStyle":"italic","color":"#e3262b"},"encoding":{"text":{"field":"t"}}},
   {"data":{"values":[{"t":"IN","u":180.5,"v":307},{"t":"OUT","u":193,"v":307}]},"mark":{"type":"text","align":"left","baseline":"middle","fontSize":5.5,"fontWeight":"bold","fontStyle":"italic","color":"#e3262b"},"encoding":{"text":{"field":"t"}}},
   {"data":{"values":[{"t":"V","u":184,"v":279},{"t":"V","u":196.5,"v":279},{"t":"L","u":196,"v":268.5},{"t":"=","u":218,"v":274},{"t":"-24","u":225,"v":279},{"t":"L","u":229,"v":268.5}]},"mark":{"type":"text","align":"left","baseline":"middle","fontSize":8.5,"fontWeight":"bold","fontStyle":"italic","color":"#111111"},"encoding":{"text":{"field":"t"}}},
   {"data":{"values":[{"t":"IN","u":190,"v":277},{"t":"OUT","u":202.5,"v":277}]},"mark":{"type":"text","align":"left","baseline":"middle","fontSize":5.5,"fontWeight":"bold","fontStyle":"italic","color":"#111111"},"encoding":{"text":{"field":"t"}}},
   {"data":{"values":[{"t":"Recovery time reduced by 60%","u":201.3,"v":197.7}]},"mark":{"type":"text","align":"left","baseline":"middle","fontSize":12,"fontWeight":"bold","color":"#111111"},"encoding":{"text":{"field":"t"}}},
   {"data":{"values":[{"t":"20mA","u":84,"v":80},{"t":"1.2A","u":176.3,"v":92.7},{"t":"Reduced by 20%","u":315.5,"v":64.3}]},"mark":{"type":"text","align":"center","baseline":"middle","fontSize":12,"fontWeight":"bold","color":"#111111"},"encoding":{"text":{"field":"t"}}},
   {"data":{"values":[{"t":"≈","u":46,"v":109.3}]},"mark":{"type":"text","align":"center","baseline":"middle","fontSize":14,"color":"#444444"},"encoding":{"text":{"field":"t"}}},
   {"data":{"values":[{"t":"t","u":354,"v":105},{"t":"t","u":236,"v":66}]},"mark":{"type":"text","align":"left","baseline":"middle","fontSize":14,"fontWeight":"bold","fontStyle":"italic","color":"#111111"},"encoding":{"text":{"field":"t"}}},
   {"data":{"values":[{"t":"2D","u":73,"v":39.3},{"t":"-1","u":105,"v":39.3},{"t":"D","u":80,"v":16},{"t":"(1-D","u":256,"v":39.3},{"t":")","u":296.8,"v":39.3},{"t":"(1-D","u":256,"v":16},{"t":")","u":296.8,"v":16}]},"mark":{"type":"text","align":"left","baseline":"middle","fontSize":13,"fontWeight":"bold","color":"#111111"},"encoding":{"text":{"field":"t"}}},
   {"data":{"values":[{"t":"=","u":59.7,"v":29.3},{"t":"=","u":246,"v":29.3}]},"mark":{"type":"text","align":"center","baseline":"middle","fontSize":13,"fontWeight":"bold","color":"#111111"},"encoding":{"text":{"field":"t"}}},
   {"data":{"values":[{"t":"(2S)","u":89.6,"v":36.3},{"t":"2","u":89.5,"v":20.5},{"t":"(2S)","u":89.5,"v":12},{"t":"(2S)","u":281.5,"v":36.3},{"t":"(3S)","u":281.5,"v":13}]},"mark":{"type":"text","align":"left","baseline":"middle","fontSize":8,"fontWeight":"bold","color":"#111111"},"encoding":{"text":{"field":"t"}}},
   {"data":{"values":[{"t":"L_AC(3S)","u":7.5,"v":26.3},{"t":"L_AC(2S)","u":126.5,"v":25.5},{"t":"L_DC(3S)","u":200.5,"v":26.3},{"t":"L_DC(2S)","u":318.5,"v":25.5}]},"mark":{"type":"text","align":"left","baseline":"middle","fontSize":8.5,"fontWeight":"bold","fontStyle":"italic","color":"#111111"},"encoding":{"text":{"field":"t"}}},
   {"data":{"values":[{"t":"x","u":116,"v":27},{"t":"x","u":307,"v":27}]},"mark":{"type":"text","align":"left","baseline":"middle","fontSize":9,"fontStyle":"italic","color":"#111111"},"encoding":{"text":{"field":"t"}}}
  ]}
 ]}
]
}
